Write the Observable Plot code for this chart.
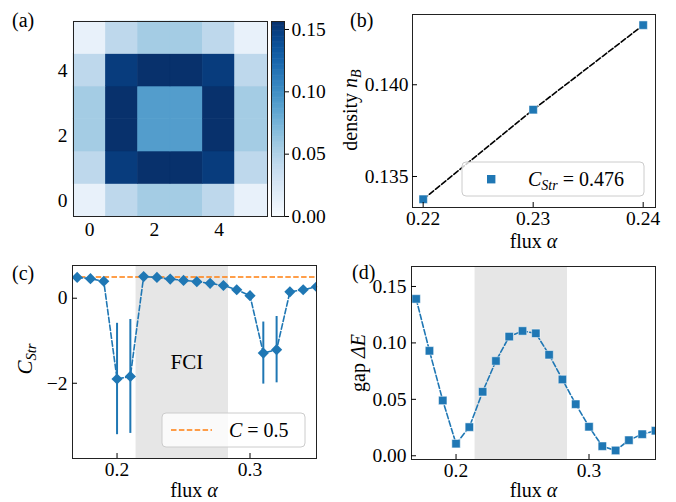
<!DOCTYPE html>
<html><head><meta charset="utf-8">
<script src="https://cdn.jsdelivr.net/npm/d3@7"></script>
<script src="https://cdn.jsdelivr.net/npm/@observablehq/plot@0.6"></script>
<style>
body{margin:0;background:#fff;}
#root{position:relative;width:676px;height:502px;overflow:hidden;font-family:"Liberation Serif",serif;}
#root svg{position:absolute;overflow:visible;background:none;}
#root svg text{font-family:"Liberation Serif",serif !important;}
</style></head><body><div id="root"></div>
<script>
// ---------- data ----------
// (a) density map, rows from y=0 (bottom) to y=5 (top)
const heatRow0 = [0.012, 0.042, 0.055, 0.055, 0.042, 0.012];
const heatRow1 = [0.042, 0.149, 0.156, 0.156, 0.149, 0.042];
const heatRow2 = [0.055, 0.156, 0.090, 0.090, 0.156, 0.055];
const heatRow3 = [0.055, 0.156, 0.090, 0.090, 0.156, 0.055];
const heatRow4 = [0.042, 0.149, 0.156, 0.156, 0.149, 0.042];
const heatRow5 = [0.012, 0.042, 0.055, 0.055, 0.042, 0.012];
const heatTicks = [0, 2, 4];
const colorTicks = [0, 0.05, 0.10, 0.15];
const colorMax = 0.1564;
// (b) density vs flux
const fluxB = [0.22, 0.23, 0.24];
const densityB = [0.13376, 0.13864, 0.14325];
const fluxBTicks = [0.22, 0.23, 0.24];
const densityTicks = [0.135, 0.140];
// (c) C_Str vs flux
const fluxCD = [0.17,0.18,0.19,0.20,0.21,0.22,0.23,0.24,0.25,0.26,0.27,0.28,0.29,0.30,0.31,0.32,0.33,0.34,0.35];
const cStr  = [0.49,0.46,0.40,-1.90,-1.84,0.51,0.49,0.45,0.42,0.39,0.35,0.30,0.20,0.06,-1.29,-1.21,0.15,0.20,0.27];
const cErr  = [0,0,0,1.31,1.34,0,0,0,0,0,0,0,0,0,0.73,0.78,0,0,0];
const cRef = 0.5;
const cTicks = [-2, 0];
const fluxTicks = [0.2, 0.3];
const fciBand = [0.2143, 0.2838];
// (d) gap vs flux
const gapE = [0.139,0.093,0.049,0.0107,0.0254,0.0567,0.084,0.1056,0.1106,0.1085,0.0895,0.0676,0.0457,0.0257,0.0085,0.0047,0.0138,0.0191,0.0222];
const gapTicks = [0, 0.05, 0.10, 0.15];

// ---------- helpers ----------
const root = document.getElementById("root");
const BLUE = "#1f77b4", ORANGE = "#ff7f0e", BAND = "#e6e6e6", FRAME = "#222";
const FS = 19.5, FF = "Liberation Serif, serif";
function place(svg, left, top){ svg.style.left = left+"px"; svg.style.top = top+"px"; root.appendChild(svg); return d3.select(svg); }
const diamond = {draw(ctx, size){ const h = Math.sqrt(size/Math.PI); ctx.moveTo(0,-h); ctx.lineTo(h,0); ctx.lineTo(0,h); ctx.lineTo(-h,0); ctx.closePath(); }};
const square = {draw(ctx, size){ const h = Math.sqrt(size/Math.PI); ctx.moveTo(-h,-h); ctx.lineTo(h,-h); ctx.lineTo(h,h); ctx.lineTo(-h,h); ctx.closePath(); }};
function mathText(sel, x, y, parts, opts={}){
  const size = opts.size||20;
  const t = sel.append("text").attr("x",x).attr("y",y).attr("font-size",size)
    .attr("font-family",FF).attr("fill","#000")
    .attr("text-anchor",opts.anchor||"start");
  if (opts.rotate) t.attr("transform",`rotate(-90 ${x} ${y})`);
  for (const p of parts){
    const s = t.append("tspan").text(p.t);
    if (p.i) s.attr("font-style","italic");
    if (p.sub){ s.attr("font-size",size*0.7).attr("baseline-shift","-28%"); }
  }
  return t;
}
const common = {style:{fontFamily:FF, fontSize:FS+"px", color:"#000", background:"none", overflow:"visible"}};
const ax = {label:null, fontSize:FS, fontFamily:FF, fill:"#000", fontVariant:"normal"};

// ---------- (a) ----------
const heat = [heatRow0,heatRow1,heatRow2,heatRow3,heatRow4,heatRow5];
const cells = [];
heat.forEach((row,j)=>row.forEach((v,i)=>cells.push({i,j,v})));
const colorOpt = {type:"linear", scheme:"blues", domain:[0,colorMax]};
const pa = Plot.plot({
  ...common, width:340, height:255, marginLeft:73, marginRight:73, marginTop:21, marginBottom:39,
  x:{domain:[-0.5,5.5]}, y:{domain:[-0.5,5.5]}, color:colorOpt,
  marks:[
    Plot.rect(cells,{x1:d=>d.i-0.5,x2:d=>d.i+0.5,y1:d=>d.j-0.5,y2:d=>d.j+0.5,fill:"v",stroke:"v",strokeWidth:0.6}),
    Plot.frame({stroke:FRAME}),
    Plot.axisX({...ax, ticks:heatTicks, tickFormat:d3.format("d"), tickSize:0, tickPadding:6}),
    Plot.axisY({...ax, ticks:heatTicks, tickFormat:d3.format("d"), tickSize:0, tickPadding:6})
  ]
});
const sa = place(pa, 0, 0);
mathText(sa, 12, 27, [{t:"(a)"}]);

// colorbar
const cbN = 160;
const cbSteps = d3.range(cbN).map(k => k*colorMax/cbN);
const pcb = Plot.plot({
  ...common, width:100, height:255, marginLeft:31, marginRight:56, marginTop:21, marginBottom:39,
  x:{domain:[0,1], axis:null}, y:{domain:[0,colorMax]}, color:colorOpt,
  marks:[
    Plot.rect(cbSteps,{x1:0,x2:1,y1:d=>d,y2:d=>Math.min(colorMax,d+colorMax/cbN*1.5),fill:d=>d+colorMax/cbN/2}),
    Plot.frame({stroke:FRAME}),
    Plot.axisY({...ax, anchor:"right", ticks:colorTicks, tickFormat:d3.format(".2f"), tickSize:4, tickPadding:3})
  ]
});
place(pcb, 240, 0);

// ---------- (b) ----------
const bData = fluxB.map((f,k)=>({f, n:densityB[k]}));
const pb = Plot.plot({
  ...common, width:336, height:255, marginLeft:72, marginRight:21, marginTop:14, marginBottom:48,
  x:{domain:[0.21903,0.24112]}, y:{domain:[0.13331,0.14383]},
  marks:[
    Plot.line(bData,{x:"f",y:"n",stroke:"#000",strokeWidth:1.6,strokeDasharray:"5.5,2.4"}),
    Plot.dot(bData,{x:"f",y:"n",symbol:square,r:4.2,fill:BLUE,stroke:"#fff",strokeWidth:0.5}),
    Plot.frame({stroke:FRAME}),
    Plot.axisX({...ax, ticks:fluxBTicks, tickFormat:d3.format(".2f"), tickSize:-5, tickPadding:9}),
    Plot.axisY({...ax, ticks:densityTicks, tickFormat:d3.format(".3f"), tickSize:-5, tickPadding:9})
  ]
});
const sb = place(pb, 340, 0);
mathText(sb, 10, 27, [{t:"(b)"}]);
mathText(sb, 17, 110, [{t:"density "},{t:"n",i:1},{t:"B",i:1,sub:1}], {rotate:1, anchor:"middle"});
mathText(sb, 193.5, 248, [{t:"flux "},{t:"α",i:1}], {anchor:"middle"});
sb.append("rect").attr("x",122).attr("y",162).attr("width",182).attr("height",34).attr("rx",4)
  .attr("fill","#fff").attr("fill-opacity",0.8).attr("stroke","#ccc");
sb.append("rect").attr("x",147).attr("y",175).attr("width",8.4).attr("height",8.4).attr("fill",BLUE);
mathText(sb, 188, 186, [{t:"C",i:1},{t:"Str",i:1,sub:1},{t:" = 0.476"}]);

// ---------- (c) ----------
const cData = fluxCD.map((f,k)=>({f, c:cStr[k], e:cErr[k], g:gapE[k]}));
const band = [{x1:fciBand[0], x2:fciBand[1]}];
const pc = Plot.plot({
  ...common, width:340, height:247, marginLeft:72, marginRight:24, marginTop:10, marginBottom:44,
  x:{domain:[0.1665,0.35]}, y:{domain:[-3.77,0.77]},
  marks:[
    Plot.rect(band,{x1:"x1",x2:"x2",y1:-3.77,y2:0.77,fill:BAND}),
    Plot.ruleY([cRef],{stroke:ORANGE,strokeWidth:1.6,strokeDasharray:"5.5,2.4"}),
    Plot.line(cData,{x:"f",y:"c",stroke:BLUE,strokeWidth:1.6,strokeDasharray:"5.5,2.4"}),
    Plot.ruleX(cData.filter(d=>d.e>0),{x:"f",y1:d=>d.c-d.e,y2:d=>d.c+d.e,stroke:BLUE,strokeWidth:2}),
    Plot.dot(cData,{x:"f",y:"c",symbol:diamond,r:5.6,fill:BLUE,clip:true}),
    Plot.text(["FCI"],{x:0.2525,y:-1.506,text:d=>d,fontSize:21,fontFamily:FF,fill:"#000"}),
    Plot.frame({stroke:FRAME}),
    Plot.axisX({...ax, ticks:fluxTicks, tickFormat:d3.format(".1f"), tickSize:-5, tickPadding:9}),
    Plot.axisY({...ax, ticks:cTicks, tickFormat:d=>d<0?"−"+Math.abs(d):String(d), tickSize:-5, tickPadding:10})
  ]
});
const sc = place(pc, 0, 255);
mathText(sc, 12, 25, [{t:"(c)"}]);
mathText(sc, 32, 104, [{t:"C",i:1},{t:"Str",i:1,sub:1}], {rotate:1, anchor:"middle", size:21});
mathText(sc, 194, 242, [{t:"flux "},{t:"α",i:1}], {anchor:"middle"});
sc.append("rect").attr("x",162).attr("y",158).attr("width",143).attr("height",34).attr("rx",4)
  .attr("fill","#fff").attr("fill-opacity",0.8).attr("stroke","#ccc");
sc.append("line").attr("x1",171).attr("x2",212).attr("y1",175).attr("y2",175)
  .attr("stroke",ORANGE).attr("stroke-width",1.6).attr("stroke-dasharray","5.5,2.4");
mathText(sc, 229, 182, [{t:"C",i:1},{t:" = 0.5"}]);

// ---------- (d) ----------
const pd = Plot.plot({
  ...common, width:336, height:247, marginLeft:71, marginRight:21, marginTop:11, marginBottom:43,
  x:{domain:[0.1665,0.35]}, y:{domain:[-0.0033,0.1677]},
  marks:[
    Plot.rect(band,{x1:"x1",x2:"x2",y1:-0.0033,y2:0.1677,fill:BAND}),
    Plot.line(cData,{x:"f",y:"g",stroke:BLUE,strokeWidth:1.6,strokeDasharray:"5.5,2.4"}),
    Plot.dot(cData,{x:"f",y:"g",symbol:square,r:4.2,fill:BLUE,stroke:"#fff",strokeWidth:0.5,clip:true}),
    Plot.frame({stroke:FRAME}),
    Plot.axisX({...ax, ticks:fluxTicks, tickFormat:d3.format(".1f"), tickSize:-5, tickPadding:9}),
    Plot.axisY({...ax, ticks:gapTicks, tickFormat:d3.format(".2f"), tickSize:-5, tickPadding:10})
  ]
});
const sd = place(pd, 340, 255);
mathText(sd, 12, 24, [{t:"(d)"}]);
mathText(sd, 25, 108, [{t:"gap "},{t:"ΔE",i:1}], {rotate:1, anchor:"middle"});
mathText(sd, 193.5, 242, [{t:"flux "},{t:"α",i:1}], {anchor:"middle"});
d3.selectAll("#root svg text").attr("font-family", FF);
</script></body></html>
